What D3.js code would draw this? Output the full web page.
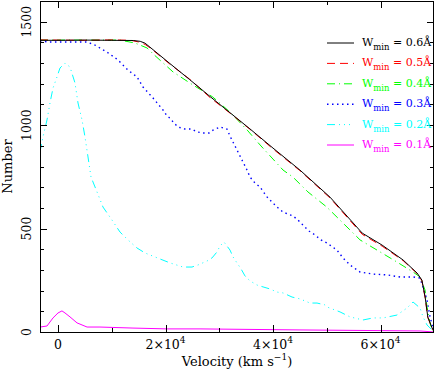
<!DOCTYPE html>
<html>
<head>
<meta charset="utf-8">
<script src="https://cdn.jsdelivr.net/npm/d3@7"></script>
<style>
	body { margin: 0; background: #fff; }
	svg { display: block; }
	text { font-family: "DejaVu Serif", serif; }
</style>
</head>
<body>
<svg id="chart" width="436" height="370"></svg>
<script>
// velocity (km/s), number of systems above W_min
const w06 = [[-3350,1410],[0,1410],[5000,1411],[10000,1410],[14000,1409],[15300,1405],[16200,1396],[17100,1377],[20800,1298],[24500,1220],[28300,1138],[32000,1060],[35700,982],[40000,889],[45000,783],[50600,652],[56600,478],[60300,420],[64200,348],[66800,285],[67700,251],[68300,169],[68800,72],[69600,19],[69950,5]];
const w05 = [[-3350,1412],[0,1411],[5000,1410],[10000,1412],[13500,1410],[15000,1402],[16200,1390],[17100,1374],[20800,1295],[24500,1222],[28300,1133],[32000,1058],[35700,980],[40000,885],[45000,780],[50600,648],[56600,472],[60300,415],[64200,345],[66800,283],[67700,248],[68300,165],[68800,70],[69600,17],[69950,4]];
const w04 = [[-3350,1411],[11500,1411],[14300,1397],[16560,1373],[17700,1344],[21400,1257],[25100,1194],[28800,1136],[32000,1063],[35200,976],[37600,904],[41860,783],[43700,749],[46500,677],[50000,604],[56200,445],[59350,396],[63070,338],[66050,290],[67350,266],[68280,203],[68650,121],[69200,44],[69580,10],[69950,5]];
const w03 = [[-3350,1407],[-1860,1402],[5400,1402],[6880,1387],[9120,1353],[11160,1315],[13020,1266],[14700,1233],[15810,1184],[17680,1131],[18600,1102],[19540,1073],[20280,1044],[21020,1030],[21400,1015],[22330,991],[23630,981],[24930,981],[25860,967],[26980,962],[28090,962],[28840,976],[30140,991],[31440,981],[32000,947],[33120,889],[35160,783],[35720,749],[36650,720],[37580,701],[38880,653],[39810,628],[40740,604],[41860,580],[42790,570],[43720,561],[44650,541],[45770,512],[46700,488],[47810,469],[48930,445],[50050,430],[51900,396],[53020,358],[54330,324],[56190,290],[58600,280],[61210,276],[63630,266],[66050,266],[67350,261],[67900,218],[68650,155],[69210,73],[69770,19],[69950,5]];
const w02 = [[-3350,870],[-2790,943],[-2050,1025],[-1490,1107],[-930,1179],[-190,1233],[370,1276],[1300,1300],[2230,1281],[3160,1204],[3720,1107],[4470,1025],[5020,943],[5580,846],[6140,749],[7260,677],[8370,604],[10050,541],[11540,483],[13020,445],[14700,406],[16190,382],[18980,353],[20840,334],[23260,314],[24930,314],[26050,324],[27720,343],[28650,358],[29580,387],[30140,416],[30880,435],[32000,396],[32560,363],[33300,334],[34050,305],[34790,271],[35720,247],[37020,227],[38140,218],[39440,208],[40740,193],[41860,189],[43540,169],[45020,160],[46880,140],[48190,140],[49670,131],[50050,121],[52470,97],[54330,73],[56740,58],[58600,68],[60470,68],[63070,82],[64930,116],[66050,145],[67350,116],[67910,73],[68650,34],[69580,10],[69950,5]];
const w01 = [[-3350,24],[-2050,29],[-930,68],[0,92],[740,102],[1300,92],[2230,73],[3540,44],[5400,24],[7810,24],[13950,19],[20280,15],[26420,15],[45020,10],[67350,5],[69950,0]];

const seriesLabels = ['0.6Å', '0.5Å', '0.4Å', '0.3Å', '0.2Å', '0.1Å'];
const seriesData = [w06, w05, w04, w03, w02, w01];
const colors = ['#000000', '#ff0000', '#00ff00', '#0000ff', '#00ffff', '#ff00ff'];
const dashes = [null, '8,5', '8,4,1,4', '1.5,3.5', '8,4,1,4,1,4,1,4', null];

const yMajor = [0, 500, 1000, 1500];
const xMajor = [0, 20000, 40000, 60000];
const xMajorLabels = ['0', '2×10', '4×10', '6×10'];

const svg = d3.select('#chart');
const padL = 40, padR = 434, padT = 1, padB = 332;

const x = d3.scaleLinear().domain([-3350, 69950]).range([padL, padR]);
const y = d3.scaleLinear().domain([0, 1600]).range([padB, padT]);

const plot = svg.append('g');
plot.append('clipPath').attr('id', 'clip')
	.append('rect').attr('x', padL).attr('y', padT)
	.attr('width', padR - padL).attr('height', padB - padT);

const line = d3.line().x(d => x(d[0])).y(d => y(d[1]));

// curves, drawn bottom-up so black is on top
const order = [5, 4, 3, 2, 1, 0];
order.forEach(i => {
	plot.append('path')
		.attr('clip-path', 'url(#clip)')
		.attr('d', line(seriesData[i]))
		.attr('fill', 'none')
		.attr('stroke', colors[i])
		.attr('stroke-width', i === 3 ? 1.4 : 1)
		.attr('stroke-dasharray', dashes[i]);
});

// axes on all four sides, ticks pointing inward
const axes = svg.append('g');
const yMinor = d3.range(0, 1601, 100).filter(v => v % 500 !== 0);
const xMinor = [10000, 30000, 50000];

function ticksLeftRight(vals, len) {
	vals.forEach(v => {
		const yy = Math.round(y(v)) + 0.5;
		axes.append('line').attr('x1', padL).attr('x2', padL + len).attr('y1', yy).attr('y2', yy);
		axes.append('line').attr('x1', padR).attr('x2', padR - len).attr('y1', yy).attr('y2', yy);
	});
}
function ticksTopBottom(vals, len) {
	vals.forEach(v => {
		const xx = Math.round(x(v)) + 0.5;
		axes.append('line').attr('x1', xx).attr('x2', xx).attr('y1', padB).attr('y2', padB - len);
		axes.append('line').attr('x1', xx).attr('x2', xx).attr('y1', padT).attr('y2', padT + len);
	});
}
ticksLeftRight(yMajor, 7);
ticksLeftRight(yMinor, 4);
ticksTopBottom(xMajor, 7);
ticksTopBottom(xMinor, 4);
axes.selectAll('line').attr('stroke', '#000').attr('stroke-width', 1);

axes.append('rect')
	.attr('x', padL + 0.5).attr('y', padT + 0.5)
	.attr('width', padR - padL - 1).attr('height', padB - padT)
	.attr('fill', 'none').attr('stroke', '#000');

// y tick labels, rotated
yMajor.forEach(v => {
	svg.append('text')
		.attr('transform', `translate(31,${y(v)}) rotate(-90)`)
		.attr('text-anchor', 'middle')
		.attr('font-size', 12.5)
		.text(v);
});

// x tick labels
xMajor.forEach((v, i) => {
	const t = svg.append('text')
		.attr('x', x(v)).attr('y', 349)
		.attr('text-anchor', 'middle')
		.attr('font-size', 12.5)
		.text(xMajorLabels[i]);
	if (v !== 0) {
		t.append('tspan').attr('dy', -6).attr('font-size', 9).text('4');
	}
});

// axis titles
const xt = svg.append('text')
	.attr('x', 237).attr('y', 366)
	.attr('text-anchor', 'middle')
	.attr('font-size', 13)
	.text('Velocity (km s');
xt.append('tspan').attr('dy', -6).attr('font-size', 9).text('−1');
xt.append('tspan').attr('dy', 6).text(')');

svg.append('text')
	.attr('transform', `translate(12,${(padT + padB) / 2}) rotate(-90)`)
	.attr('text-anchor', 'middle')
	.attr('font-size', 13)
	.text('Number');

// legend
const legend = svg.append('g');
seriesLabels.forEach((lab, i) => {
	const ly = 43 + i * 20.4;
	legend.append('line')
		.attr('x1', 327).attr('x2', 354).attr('y1', ly).attr('y2', ly)
		.attr('stroke', colors[i])
		.attr('stroke-width', i === 3 ? 1.4 : 1)
		.attr('stroke-dasharray', dashes[i]);
	const t = legend.append('text')
		.attr('x', 362).attr('y', ly + 3)
		.attr('font-size', 11)
		.attr('fill', colors[i])
		.text('W');
	t.append('tspan').attr('dy', 4).attr('font-size', 8.5).text('min');
	t.append('tspan').attr('dy', -4).text(' = ' + lab);
});
</script>
</body>
</html>
